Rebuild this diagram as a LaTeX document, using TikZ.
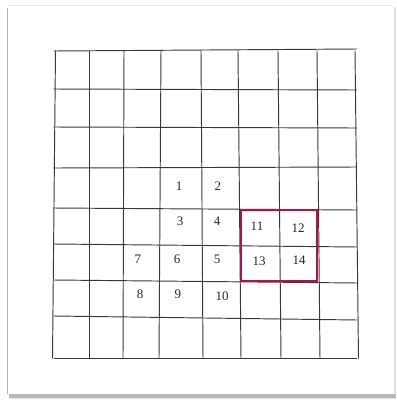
\documentclass[tikz,border=0pt]{standalone}
\usepackage{fontspec}
\setmainfont{Liberation Serif}
\begin{document}
\begin{tikzpicture}[x=1pt,y=-1pt,
  gridline/.style={draw=black!78, line width=0.95pt},
  redbox/.style={draw={rgb,255:red,178;green,18;blue,72}, line width=2pt},
  num/.style={font=\fontsize{13}{13}\selectfont, text=black!85, inner sep=0pt}]
\useasboundingbox (0,0) rectangle (397,400);
\fill[white] (0,0) rectangle (397,400);
% card shadow and card
\fill[black!12] (9,7) rectangle (396,399);
\fill[black!28] (9,394) rectangle (396,398);
\fill[white] (8,5) rectangle (394,394);
\draw[black!30,line width=1.2pt] (7.5,8) -- (7.5,394);
\draw[black!10,line width=0.6pt] (8,5) -- (392,5);
% vertical lines (top x, bottom x)
\foreach \t/\b in {55.5/52.5, 89/89, 124/123, 161/159, 201/203, 238/241, 278/281, 317/320, 355/358.5}
  \draw[gridline] (\t,50.5) -- (\b,358.5);
% horizontal lines (left y, right y)
\foreach \l/\r in {51/49, 89/90, 127/128, 168/167, 208/210, 244/247, 280/283, 316/320, 358/358}
  \draw[gridline] (53.5,\l) -- (357,\r);
% red box
\draw[redbox] (241,210) rectangle (317,281);
% numbers
\node[num] (n1) at (179,186) {1};
\node[num] (n2) at (218,186) {2};
\node[num] (n3) at (180,221) {3};
\node[num] (n4) at (217,221) {4};
\node[num] (n11) at (257,226) {11};
\node[num] (n12) at (298,228) {12};
\node[num] (n7) at (138,259) {7};
\node[num] (n6) at (177,259) {6};
\node[num] (n5) at (217,259) {5};
\node[num] (n13) at (259,261) {13};
\node[num] (n14) at (299,260) {14};
\node[num] (n8) at (140,294) {8};
\node[num] (n9) at (178,294) {9};
\node[num] (n10) at (222,296) {10};
\end{tikzpicture}
\end{document}
